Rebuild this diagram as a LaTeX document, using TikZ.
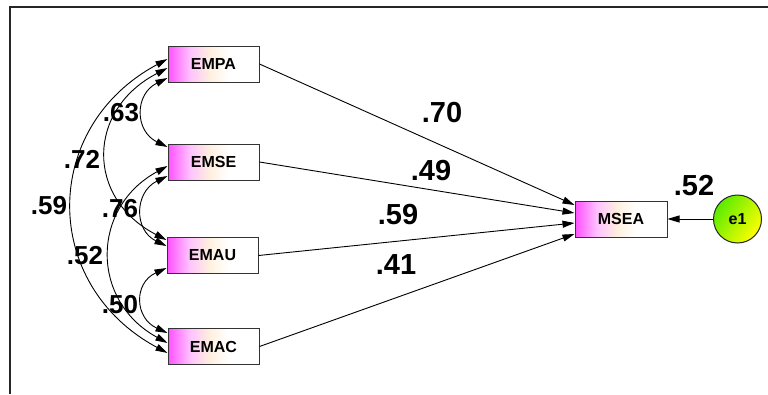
\documentclass[tikz,border=0pt]{standalone}
\usepackage{fontspec}
\setmainfont{Liberation Sans}
\usetikzlibrary{arrows.meta,calc}

\definecolor{boxpink}{RGB}{255,80,255}
\definecolor{boxcream}{RGB}{255,240,222}
\definecolor{errgreen}{RGB}{90,235,0}
\definecolor{erryellow}{RGB}{255,255,0}

% magenta on the left fading through cream to white
\pgfdeclarehorizontalshading{obsfill}{100bp}{%
  color(0bp)=(boxpink); color(25bp)=(boxpink);
  color(37bp)=(boxpink!35!white); color(48bp)=(boxcream);
  color(58bp)=(white); color(100bp)=(white)}

\tikzset{
  obs/.style={draw=black!80, line width=1pt, minimum width=91pt, minimum height=36pt,
    inner sep=0pt, shading=obsfill,
    font=\fontsize{16}{16}\selectfont\bfseries},
  errc/.style={circle, draw=black!85, line width=1pt, minimum size=48pt, inner sep=0pt,
    left color=errgreen, right color=erryellow, shading angle=55,
    font=\fontsize{16}{16}\selectfont\bfseries},
  tip/.tip={Triangle[length=12pt,width=7pt]},
  path/.style={line width=0.9pt, -tip},
  cov/.style={line width=0.9pt, tip-tip},
  coef/.style={inner sep=0pt, font=\fontsize{26}{26}\selectfont\bfseries},
  bigcoef/.style={coef, font=\fontsize{29}{29}\selectfont\bfseries},
}

\begin{document}
\begin{tikzpicture}[x=1pt, y=-1pt]
  \useasboundingbox (0,0) rectangle (768,394);

  % frame
  \draw[line width=1.6pt, black!85] (10,394) -- (10,7) -- (768,7);

  % observed variables
  \node[obs] (EMPA) at (213.5,64)    {EMPA};
  \node[obs] (EMSE) at (213.5,162)   {EMSE};
  \node[obs] (EMAU) at (212.5,255.5) {EMAU};
  \node[obs] (EMAC) at (213.5,346.5) {EMAC};
  \node[obs, minimum width=92pt] (MSEA) at (621,219) {MSEA};
  \node[errc] (e1) at (737.5,219) {e1};

  % regression paths
  \draw[path] (EMPA.east) -- ($(MSEA.west)+(0,-14)$);
  \draw[path] (EMSE.east) -- ($(MSEA.west)+(0,-6)$);
  \draw[path] (EMAU.east) -- ($(MSEA.west)+(0,4)$);
  \draw[path] (EMAC.east) -- ($(MSEA.west)+(0,15)$);
  \draw[path, tip-] (MSEA.east) -- (e1.west);

  % covariances
  \draw[cov] ($(EMPA.west)+(0,14)$) .. controls +(-33,16) and +(-33,-16) .. ($(EMSE.west)+(0,-15)$);
  \draw[cov] ($(EMSE.west)+(0,14)$) .. controls +(-33,16) and +(-33,-16) .. ($(EMAU.west)+(0,-9.5)$);
  \draw[cov] ($(EMAU.west)+(0,12.5)$) .. controls +(-33,15) and +(-33,-15) .. ($(EMAC.west)+(0,-13.5)$);
  \draw[cov] ($(EMPA.west)+(0,4)$) .. controls +(-81,42) and +(-81,-42) .. ($(EMAU.west)+(0,-15.5)$);
  \draw[cov] ($(EMSE.west)+(0,4)$) .. controls +(-77,42) and +(-77,-42) .. ($(EMAC.west)+(0,-3.5)$);
  \draw[cov] ($(EMPA.west)+(0,-5)$) .. controls +(-127,68) and +(-127,-68) .. ($(EMAC.west)+(0,6.5)$);

  % coefficients
  \node[bigcoef] (c70) at (442,112.5) {.70};
  \node[bigcoef] (c49) at (431,171) {.49};
  \node[bigcoef] (c59) at (398,215) {.59};
  \node[bigcoef] (c41) at (396,265) {.41};
  \node[bigcoef] (r52) at (694,186) {.52};
  \node[coef] (k63) at (121,113) {.63};
  \node[coef] (k72) at (82,159)  {.72};
  \node[coef] (k59) at (49,206)  {.59};
  \node[coef] (k76) at (120,209) {.76};
  \node[coef] (k52) at (85,256)  {.52};
  \node[coef] (k50) at (120,305) {.50};
\end{tikzpicture}
\end{document}
